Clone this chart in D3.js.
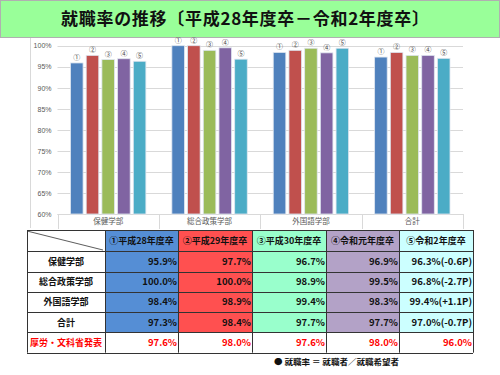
<!DOCTYPE html>
<html>
<head>
<meta charset="utf-8">
<script src="https://cdn.jsdelivr.net/npm/d3@7"></script>
<style>
  body { margin: 0; background: #fff; }
  svg { display: block; font-family: "Noto Sans CJK JP", "Noto Sans", sans-serif; }
</style>
</head>
<body>
<div id="chart"></div>
<script>
// data
var departments = ['保健学部', '総合政策学部', '外国語学部', '合計'];
var years = ['①平成28年度卒', '②平成29年度卒', '③平成30年度卒', '④令和元年度卒', '⑤令和2年度卒'];
var marks = ['①', '②', '③', '④', '⑤'];
var rate28 = [95.9, 100.0, 98.4, 97.3];
var rate29 = [97.7, 100.0, 98.9, 98.4];
var rate30 = [96.7, 98.9, 99.4, 97.7];
var rateR1 = [96.9, 99.5, 98.3, 97.7];
var rateR2 = [96.3, 96.8, 99.4, 97.0];
var diffR2 = ['(-0.6P)', '(-2.7P)', '(+1.1P)', '(-0.7P)'];
var national = [97.6, 98.0, 97.6, 98.0, 96.0];
var yTicks = [60, 65, 70, 75, 80, 85, 90, 95, 100];

var series = [rate28, rate29, rate30, rateR1, rateR2];
var barColors = ['#4f81bd', '#c0504d', '#9bbb59', '#8064a2', '#4bacc6'];
var headColors = ['#558ed5', '#ff5050', '#99ffcc', '#b3a2c7', '#ccffff'];

var W = 500, H = 375;
var svg = d3.select('#chart').append('svg').attr('width', W).attr('height', H);

// title band
svg.append('rect')
  .attr('x', 0.5).attr('y', 0.5).attr('width', W - 1).attr('height', 37)
  .attr('fill', '#99ff99').attr('stroke', '#b0b0b0');
svg.append('text')
  .attr('x', 245).attr('y', 25)
  .attr('text-anchor', 'middle')
  .attr('font-size', 17).attr('font-weight', 'bold').attr('fill', '#111')
  .attr('textLength', 368).attr('lengthAdjust', 'spacing')
  .text('就職率の推移〔平成28年度卒－令和2年度卒〕');

// chart frame
svg.append('line')
  .attr('x1', 30.5).attr('x2', 30.5).attr('y1', 38).attr('y2', 228)
  .attr('stroke', '#d9d9d9');

var plot = { left: 57.5, right: 463, top: 45.7, bottom: 214 };

var x0 = d3.scaleBand().domain(departments).range([plot.left, plot.right]).paddingInner(0).paddingOuter(0);
var x1 = d3.scaleBand().domain(d3.range(5)).range([13, x0.bandwidth() - 13]).paddingInner(0.2);
var y = d3.scaleLinear().domain([60, 100]).range([plot.bottom, plot.top]);

// gridlines
svg.append('g').selectAll('line').data(yTicks).enter().append('line')
  .attr('x1', plot.left).attr('x2', plot.right)
  .attr('y1', function(d) { return Math.round(y(d)) + 0.5; })
  .attr('y2', function(d) { return Math.round(y(d)) + 0.5; })
  .attr('stroke', '#d9d9d9');

// y axis labels
var yAxis = d3.axisLeft(y).tickValues(yTicks).tickSize(0).tickPadding(6)
  .tickFormat(function(d) { return d + '%'; });
svg.append('g').attr('transform', 'translate(' + plot.left + ',0)').call(yAxis)
  .call(function(g) {
    g.select('.domain').remove();
    g.selectAll('text').attr('font-size', 7).attr('fill', '#595959')
      .attr('font-family', 'Liberation Sans, Arial, sans-serif');
  });

// category axis with separators
var catG = svg.append('g');
catG.append('line')
  .attr('x1', plot.left).attr('x2', plot.right)
  .attr('y1', plot.bottom + 0.5).attr('y2', plot.bottom + 0.5)
  .attr('stroke', '#d9d9d9');
catG.selectAll('line.sep').data(departments.concat(['end'])).enter().append('line')
  .attr('class', 'sep')
  .attr('x1', function(d, i) { return Math.round(plot.left + i * x0.bandwidth()) + 0.5; })
  .attr('x2', function(d, i) { return Math.round(plot.left + i * x0.bandwidth()) + 0.5; })
  .attr('y1', plot.bottom).attr('y2', 229)
  .attr('stroke', '#d9d9d9');
catG.selectAll('text').data(departments).enter().append('text')
  .attr('x', function(d) { return x0(d) + x0.bandwidth() / 2; })
  .attr('y', 224)
  .attr('text-anchor', 'middle')
  .attr('font-size', 7.5).attr('fill', '#595959')
  .text(function(d) { return d; });

// bars
var groups = svg.append('g').selectAll('g').data(departments).enter().append('g')
  .attr('transform', function(d) { return 'translate(' + x0(d) + ',0)'; });

groups.selectAll('rect')
  .data(function(d, i) { return series.map(function(s, k) { return { k: k, v: s[i] }; }); })
  .enter().append('rect')
  .attr('x', function(d) { return x1(d.k); })
  .attr('y', function(d) { return y(d.v); })
  .attr('width', x1.bandwidth())
  .attr('height', function(d) { return plot.bottom - y(d.v); })
  .attr('fill', function(d) { return barColors[d.k]; })
  .attr('stroke', '#dfe6f0').attr('stroke-width', 0.8);

groups.selectAll('text')
  .data(function(d, i) { return series.map(function(s, k) { return { k: k, v: s[i] }; }); })
  .enter().append('text')
  .attr('x', function(d) { return x1(d.k) + x1.bandwidth() / 2; })
  .attr('y', function(d) { return y(d.v) - 3; })
  .attr('text-anchor', 'middle')
  .attr('font-size', 7).attr('fill', '#404040')
  .text(function(d) { return marks[d.k]; });

// table
var colX = [27, 105, 178, 252, 326, 399, 473];
var rowY = [230, 251, 271.5, 291.7, 312.2, 332.4, 352.7];
var tbl = svg.append('g');

// header backgrounds
tbl.selectAll('rect.head').data(years).enter().append('rect')
  .attr('x', function(d, i) { return colX[i + 1]; })
  .attr('y', rowY[0])
  .attr('width', function(d, i) { return colX[i + 2] - colX[i + 1]; })
  .attr('height', rowY[5] - rowY[0])
  .attr('fill', function(d, i) { return headColors[i]; });

// grid lines
tbl.selectAll('line.h').data(rowY).enter().append('line')
  .attr('x1', colX[0]).attr('x2', colX[6])
  .attr('y1', function(d) { return Math.round(d) + 0.5; })
  .attr('y2', function(d) { return Math.round(d) + 0.5; })
  .attr('stroke', '#333').attr('stroke-width', 1);
tbl.selectAll('line.v').data(colX).enter().append('line')
  .attr('x1', function(d) { return Math.round(d) + 0.5; })
  .attr('x2', function(d) { return Math.round(d) + 0.5; })
  .attr('y1', rowY[0]).attr('y2', rowY[6])
  .attr('stroke', '#333').attr('stroke-width', 1);
tbl.append('line')
  .attr('x1', colX[0]).attr('y1', rowY[0] + 1)
  .attr('x2', colX[1] - 2).attr('y2', rowY[1] - 1)
  .attr('stroke', '#333').attr('stroke-width', 0.8);

// header text
tbl.selectAll('text.head').data(years).enter().append('text')
  .attr('x', function(d, i) { return (colX[i + 1] + colX[i + 2]) / 2; })
  .attr('y', (rowY[0] + rowY[1]) / 2 + 3.5)
  .attr('text-anchor', 'middle')
  .attr('font-size', 9).attr('font-weight', 'bold').attr('fill', '#111')
  .text(function(d) { return d; });

// row labels
var rowLabels = departments.concat(['厚労・文科省発表']);
tbl.selectAll('text.row').data(rowLabels).enter().append('text')
  .attr('x', (colX[0] + colX[1]) / 2)
  .attr('y', function(d, i) { return (rowY[i + 1] + rowY[i + 2]) / 2 + 3.5; })
  .attr('text-anchor', 'middle')
  .attr('font-size', 9).attr('font-weight', 'bold')
  .attr('fill', function(d, i) { return i === 4 ? '#ff0000' : '#111'; })
  .text(function(d) { return d; });

// values
var cells = [];
departments.forEach(function(dep, r) {
  series.forEach(function(s, c) {
    var t = s[r].toFixed(1) + '%';
    if (c === 4) t += diffR2[r];
    cells.push({ r: r, c: c, t: t, red: false });
  });
});
national.forEach(function(v, c) {
  cells.push({ r: 4, c: c, t: v.toFixed(1) + '%', red: true });
});
tbl.selectAll('text.val').data(cells).enter().append('text')
  .attr('x', function(d) { return colX[d.c + 2] - 1; })
  .attr('y', function(d) { return (rowY[d.r + 1] + rowY[d.r + 2]) / 2 + 3.5; })
  .attr('text-anchor', 'end')
  .attr('font-size', 9.5).attr('font-weight', 'bold')
  .attr('fill', function(d) { return d.red ? '#ff0000' : '#111'; })
  .text(function(d) { return d.t; });

// footnote
svg.append('text')
  .attr('x', 274).attr('y', 365)
  .attr('font-size', 8).attr('font-weight', 'bold').attr('fill', '#111')
  .attr('textLength', 125).attr('lengthAdjust', 'spacingAndGlyphs')
  .text('●  就職率 ＝ 就職者／就職希望者');
</script>
</body>
</html>
